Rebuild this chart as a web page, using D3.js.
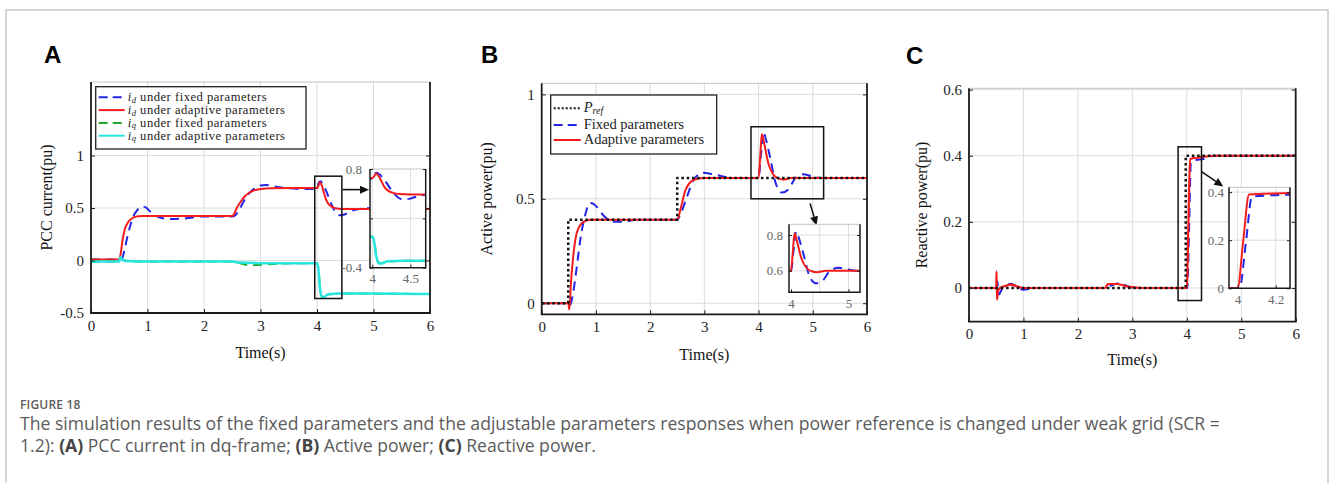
<!DOCTYPE html>
<html><head><meta charset="utf-8">
<script src="https://cdn.jsdelivr.net/npm/d3@7"></script>
<style>body{margin:0;background:#fff}svg{display:block}</style>
</head><body>
<svg id="c" width="1330" height="483"></svg>
<script>
// ---------------- DATA ----------------
const timeTicks = [0, 1, 2, 3, 4, 5, 6];
const A_yTicks = [-0.5, 0, 0.5, 1];
const A_yLabels = ["-0.5", "0", "0.5", "1"];
const B_yTicks = [0, 0.5, 1];
const B_yLabels = ["0", "0.5", "1"];
const C_yTicks = [0, 0.2, 0.4, 0.6];
const C_yLabels = ["0", "0.2", "0.4", "0.6"];

// Panel A: PCC current (pu)
const A_idFixed = [[0,0.01],[0.5,0.01],[0.55,0.02],[0.6,0.12],[0.65,0.24],[0.7,0.34],[0.75,0.42],[0.82,0.48],[0.9,0.515],[0.97,0.505],[1.05,0.465],[1.15,0.425],[1.25,0.405],[1.4,0.395],[1.6,0.398],[1.8,0.41],[2.0,0.42],[2.5,0.42],[2.55,0.43],[2.62,0.48],[2.7,0.56],[2.8,0.64],[2.9,0.69],[3.0,0.715],[3.1,0.72],[3.25,0.705],[3.5,0.688],[3.8,0.68],[4.0,0.68],[4.03,0.74],[4.06,0.755],[4.1,0.73],[4.18,0.64],[4.26,0.53],[4.33,0.46],[4.4,0.43],[4.5,0.44],[4.6,0.47],[4.8,0.495],[5.0,0.5],[5.5,0.49],[6,0.49]];
const A_idAdaptive = [[0,0.01],[0.5,0.01],[0.52,0.05],[0.56,0.2],[0.6,0.3],[0.65,0.36],[0.72,0.4],[0.8,0.418],[0.9,0.424],[1.0,0.425],[1.5,0.425],[2.0,0.425],[2.5,0.425],[2.53,0.44],[2.58,0.5],[2.65,0.56],[2.72,0.61],[2.8,0.645],[2.9,0.67],[3.0,0.68],[3.2,0.688],[3.6,0.69],[4.0,0.69],[4.03,0.72],[4.05,0.745],[4.08,0.72],[4.12,0.65],[4.16,0.58],[4.2,0.54],[4.27,0.51],[4.35,0.495],[4.5,0.49],[5.0,0.49],[6,0.49]];
const A_iqFixed = [[0,-0.01],[0.5,-0.01],[0.53,0.02],[0.6,0.0],[1.0,-0.01],[2.5,-0.01],[2.6,-0.02],[2.8,-0.045],[3.0,-0.04],[3.3,-0.03],[4.0,-0.025],[4.03,-0.1],[4.06,-0.3],[4.1,-0.345],[4.2,-0.325],[4.5,-0.315],[6,-0.32]];
const A_iqAdaptive = [[0,-0.01],[0.5,-0.01],[0.52,0.03],[0.55,0.01],[0.6,-0.005],[1.0,-0.01],[2.5,-0.01],[2.6,-0.02],[3.0,-0.025],[4.0,-0.025],[4.02,-0.06],[4.05,-0.25],[4.08,-0.345],[4.12,-0.348],[4.2,-0.322],[4.4,-0.315],[5.0,-0.315],[6,-0.32]];
const A_insetXTicks = [4, 4.5];
const A_insetXLabels = ["4", "4.5"];
const A_insetYTicks = [-0.4, 0.2, 0.8];
const A_insetYLabels = ["-0.4", "", "0.8"];

// Panel B: Active power (pu)
const B_pRef = [[0,0],[0.49,0],[0.49,0.4],[2.5,0.4],[2.5,0.6],[6,0.6]];
const B_pFixed = [[0,0],[0.5,0],[0.52,-0.01],[0.58,0.05],[0.65,0.18],[0.71,0.3],[0.8,0.42],[0.89,0.48],[0.96,0.475],[1.02,0.46],[1.14,0.42],[1.32,0.39],[1.5,0.39],[1.75,0.4],[2.5,0.4],[2.55,0.42],[2.68,0.51],[2.8,0.59],[2.98,0.625],[3.17,0.617],[3.54,0.6],[4.0,0.6],[4.04,0.7],[4.09,0.82],[4.14,0.78],[4.22,0.69],[4.31,0.58],[4.43,0.53],[4.55,0.545],[4.68,0.6],[4.83,0.617],[4.95,0.61],[5.14,0.6],[6,0.6]];
const B_pAdaptive = [[0,0],[0.49,0],[0.51,-0.03],[0.54,0.1],[0.58,0.22],[0.65,0.34],[0.77,0.39],[0.9,0.4],[2.5,0.4],[2.56,0.45],[2.65,0.54],[2.8,0.59],[2.98,0.6],[4.0,0.6],[4.03,0.7],[4.06,0.81],[4.1,0.77],[4.18,0.67],[4.26,0.62],[4.34,0.6],[4.46,0.592],[4.6,0.6],[6,0.6]];
const B_insetXTicks = [4, 5];
const B_insetXLabels = ["4", "5"];
const B_insetGridX = [4.5, 5];
const B_insetYTicks = [0.6, 0.8];
const B_insetYLabels = ["0.6", "0.8"];

// Panel C: Reactive power (pu)
const C_qRef = [[0,0],[3.98,0],[3.98,0.4],[6,0.4]];
const C_qFixed = [[0,0],[0.5,0],[0.52,0.02],[0.55,-0.02],[0.6,-0.005],[0.69,0.005],[0.75,0.013],[0.85,0.008],[1.0,-0.005],[1.2,0.0],[2.5,0.0],[2.62,0.008],[2.77,0.015],[2.9,0.006],[3.02,0.0],[4.0,0.0],[4.01,0.0],[4.045,0.2],[4.075,0.38],[4.15,0.386],[4.3,0.39],[4.5,0.4],[6,0.4]];
const C_qAdaptive = [[0,0],[0.5,0],[0.505,0.05],[0.515,-0.035],[0.53,-0.01],[0.57,0],[0.69,0.007],[0.75,0.01],[0.88,0.005],[1.0,0],[2.5,0],[2.55,0.012],[2.71,0.012],[2.9,0.005],[3.2,0],[4.0,0],[4.03,0.2],[4.06,0.39],[4.24,0.395],[4.5,0.4],[6,0.4]];
const C_insetXTicks = [4, 4.2];
const C_insetXLabels = ["4", "4.2"];
const C_insetYTicks = [0, 0.2, 0.4];
const C_insetYLabels = ["0", "0.2", "0.4"];

// --------------- STYLE -----------------
const SERIF = "'Liberation Serif','DejaVu Serif',serif";
const SANS = "'Liberation Sans',Arial,sans-serif";
const COL = {blue:"#2424e6", red:"#f41c1c", green:"#1fa82a", cyan:"#27e6e0", black:"#111"};

const svg = d3.select('#c');
svg.append('rect').attr('x',6).attr('y',10).attr('width',1322).attr('height',520)
  .attr('fill','none').attr('stroke','#c9c9c9').attr('stroke-width',1.5);

let clipN = 0;
function frame(cfg){
  const g = svg.append('g');
  const x = d3.scaleLinear().domain(cfg.xDomain).range([cfg.x0,cfg.x1]);
  const y = d3.scaleLinear().domain(cfg.yDomain).range([cfg.y1,cfg.y0]);
  if (cfg.bg) g.append('rect').attr('x',cfg.x0).attr('y',cfg.y0).attr('width',cfg.x1-cfg.x0).attr('height',cfg.y1-cfg.y0).attr('fill','#fff');
  const grid = g.append('g').attr('stroke','#dcdcdc').attr('stroke-width',1);
  (cfg.gridX||cfg.xTicks).forEach(t=>{ if(t>cfg.xDomain[0]+1e-9 && t<cfg.xDomain[1]-1e-9) grid.append('line').attr('x1',x(t)).attr('x2',x(t)).attr('y1',cfg.y0).attr('y2',cfg.y1);});
  (cfg.gridY||cfg.yTicks).forEach(v=>{ if(v>cfg.yDomain[0]+1e-9 && v<cfg.yDomain[1]-1e-9) grid.append('line').attr('y1',y(v)).attr('y2',y(v)).attr('x1',cfg.x0).attr('x2',cfg.x1);});
  const id = 'clip'+(clipN++);
  svg.append('clipPath').attr('id',id).append('rect').attr('x',cfg.x0).attr('y',cfg.y0).attr('width',cfg.x1-cfg.x0).attr('height',cfg.y1-cfg.y0);
  const plot = g.append('g').attr('clip-path',`url(#${id})`);
  return {g,x,y,plot,cfg};
}
function finishFrame(f){
  const {g,x,y,cfg} = f;
  g.append('line').attr('x1',cfg.x0).attr('x2',cfg.x1).attr('y1',cfg.y0).attr('y2',cfg.y0).attr('stroke','#c4c4c4').attr('stroke-width',1);
  const bx = g.append('g').attr('transform',`translate(0,${cfg.y1})`)
    .call(d3.axisBottom(x).tickValues(cfg.xTicks).tickFormat((d,i)=>cfg.xLabels[i]).tickSize(-cfg.tick).tickPadding(cfg.padX));
  const ly = g.append('g').attr('transform',`translate(${cfg.x0},0)`)
    .call(d3.axisLeft(y).tickValues(cfg.yTicks).tickFormat((d,i)=>cfg.yLabels[i]).tickSize(-cfg.tick).tickPadding(cfg.padY));
  const ry = g.append('g').attr('transform',`translate(${cfg.x1},0)`)
    .call(d3.axisRight(y).tickValues(cfg.yTicks).tickFormat('').tickSize(-cfg.tick));
  [bx,ly,ry].forEach(a=>{
    a.select('.domain').remove();
    a.selectAll('line').attr('stroke','#222').attr('stroke-width',1);
    a.selectAll('text').attr('font-family',SERIF).attr('font-size',cfg.fs).attr('fill',cfg.labelColor);
  });
  const lw = cfg.frameW;
  g.append('line').attr('x1',cfg.x0).attr('x2',cfg.x0).attr('y1',cfg.y0).attr('y2',cfg.y1).attr('stroke','#1a1a1a').attr('stroke-width',lw);
  g.append('line').attr('x1',cfg.x1).attr('x2',cfg.x1).attr('y1',cfg.y0).attr('y2',cfg.y1).attr('stroke','#1a1a1a').attr('stroke-width',lw);
  g.append('line').attr('x1',cfg.x0-lw/2).attr('x2',cfg.x1+lw/2).attr('y1',cfg.y1).attr('y2',cfg.y1).attr('stroke','#1a1a1a').attr('stroke-width',lw);
}
function series(f, data, color, width, dash, curve){
  const line = d3.line().x(d=>f.x(d[0])).y(d=>f.y(d[1])).curve(curve||d3.curveMonotoneX);
  f.plot.append('path').datum(data).attr('d',line).attr('fill','none')
    .attr('stroke',color).attr('stroke-width',width).attr('stroke-dasharray',dash||null)
    .attr('stroke-linejoin','round');
}
function zoomBox(f, t0,t1,v0,v1){
  f.g.append('rect').attr('x',f.x(t0)).attr('y',f.y(v1)).attr('width',f.x(t1)-f.x(t0)).attr('height',f.y(v0)-f.y(v1))
   .attr('fill','none').attr('stroke','#111').attr('stroke-width',1.5);
}
function arrow(f, a, b){
  const x1=f.x(a[0]), y1=f.y(a[1]), x2=f.x(b[0]), y2=f.y(b[1]);
  const ang=Math.atan2(y2-y1,x2-x1), L=9, W=4;
  const bx=x2-L*Math.cos(ang), by=y2-L*Math.sin(ang);
  f.g.append('line').attr('x1',x1).attr('y1',y1).attr('x2',bx).attr('y2',by).attr('stroke','#111').attr('stroke-width',1.6);
  f.g.append('path').attr('d',`M${x2},${y2}L${bx-W*Math.sin(ang)},${by+W*Math.cos(ang)}L${bx+W*Math.sin(ang)},${by-W*Math.cos(ang)}Z`).attr('fill','#111');
}
function axisTitles(f, xt, yt, xty, ytx){
  const c=f.cfg;
  f.g.append('text').attr('x',(c.x0+c.x1)/2).attr('y',xty).attr('text-anchor','middle')
    .attr('font-family',SERIF).attr('font-size',16).attr('fill','#111').text(xt);
  f.g.append('text').attr('transform',`translate(${ytx},${(c.y0+c.y1)/2}) rotate(-90)`).attr('text-anchor','middle')
    .attr('font-family',SERIF).attr('font-size',16).attr('fill','#111').text(yt);
}
function letter(txt,x,y){
  svg.append('text').attr('x',x).attr('y',y).attr('font-family',SANS).attr('font-weight','bold').attr('font-size',24).attr('fill','#000').text(txt);
}
function legend(x,y,w,h,entries,fs,sampleW,ls){
  const g=svg.append('g');
  g.append('rect').attr('x',x).attr('y',y).attr('width',w).attr('height',h).attr('fill','#fff').attr('stroke','#222').attr('stroke-width',1.3);
  entries.forEach(e=>{
    g.append('line').attr('x1',x+3).attr('x2',x+3+sampleW).attr('y1',e.y).attr('y2',e.y)
      .attr('stroke',e.color).attr('stroke-width',e.w).attr('stroke-dasharray',e.dash||null);
    const t=g.append('text').attr('x',x+6+sampleW).attr('y',e.y+4).attr('font-family',SERIF).attr('font-size',fs)
      .attr('letter-spacing',ls||0).attr('fill','#222');
    e.parts.forEach(p=>{
      const s=t.append('tspan').text(p.t);
      if(p.i) s.attr('font-style','italic');
      if(p.sub) s.attr('font-size',fs*0.68).attr('dy',1.5);
      if(p.up) s.attr('dy',-1.5);
    });
  });
}

const mainCfg = {tick:4, padX:7, padY:7, fs:15, labelColor:'#222', frameW:1.8};
const insetCfg = {tick:3, padX:6, padY:4, fs:13, labelColor:'#666', frameW:1.5, bg:true};

// ---------------- PANEL A ----------------
letter('A',44,63);
const A = frame(Object.assign({}, mainCfg, {x0:91,x1:430,y0:82,y1:313,xDomain:[0,6],yDomain:[-0.5,1.7],
  xTicks:timeTicks, xLabels:timeTicks.map(String), yTicks:A_yTicks, yLabels:A_yLabels}));
series(A, A_idFixed, COL.blue, 2, '9,6');
series(A, A_idAdaptive, COL.red, 2);
series(A, A_iqFixed, COL.green, 2, '9,6');
series(A, A_iqAdaptive, COL.cyan, 2.5);
finishFrame(A);
axisTitles(A,'Time(s)','PCC current(pu)',358,52);
zoomBox(A,3.96,4.44,-0.362,0.803);
arrow(A,[4.45,0.675],[4.92,0.675]);
const Ai = frame(Object.assign({}, insetCfg, {x0:370,x1:425.7,y0:169,y1:267.7,xDomain:[3.97,4.7],yDomain:[-0.4,0.8],
  xTicks:A_insetXTicks, xLabels:A_insetXLabels, yTicks:A_insetYTicks, yLabels:A_insetYLabels, padY:8}));
series(Ai, A_idFixed, COL.blue, 2, '9,6');
series(Ai, A_idAdaptive, COL.red, 2);
series(Ai, A_iqFixed, COL.green, 2, '9,6');
series(Ai, A_iqAdaptive, COL.cyan, 2.5);
finishFrame(Ai);
legend(95.7,86.7,210.3,62.3,[
  {y:97.3,color:COL.blue,w:2,dash:'9,5',parts:[{t:'i',i:1},{t:'d',sub:1,i:1},{t:' under fixed parameters',up:1}]},
  {y:110.1,color:COL.red,w:2,parts:[{t:'i',i:1},{t:'d',sub:1,i:1},{t:' under adaptive parameters',up:1}]},
  {y:122.9,color:COL.green,w:2,dash:'9,5',parts:[{t:'i',i:1},{t:'q',sub:1,i:1},{t:' under fixed parameters',up:1}]},
  {y:135.7,color:COL.cyan,w:2,parts:[{t:'i',i:1},{t:'q',sub:1,i:1},{t:' under adaptive parameters',up:1}]}
],12.6,26,0.5);

// ---------------- PANEL B ----------------
letter('B',481,63);
const B = frame(Object.assign({}, mainCfg, {x0:541.7,x1:867,y0:83.3,y1:314.3,xDomain:[0,6],yDomain:[-0.053,1.053],
  xTicks:timeTicks, xLabels:timeTicks.map(String), yTicks:B_yTicks, yLabels:B_yLabels}));
series(B, B_pFixed, COL.blue, 2, '9,6');
series(B, B_pAdaptive, COL.red, 2);
series(B, B_pRef, COL.black, 2.5, '2.5,2.8', d3.curveLinear);
finishFrame(B);
axisTitles(B,'Time(s)','Active power(pu)',360,492);
zoomBox(B,3.86,5.2,0.5,0.845);
arrow(B,[4.95,0.478],[5.07,0.372]);
const Bi = frame(Object.assign({}, insetCfg, {x0:789,x1:860,y0:224.3,y1:292.3,xDomain:[3.965,5.2],yDomain:[0.48,0.86],
  xTicks:B_insetXTicks, xLabels:B_insetXLabels, gridX:B_insetGridX, yTicks:B_insetYTicks, yLabels:B_insetYLabels, padY:6}));
series(Bi, B_pFixed, COL.blue, 2, '9,6');
series(Bi, B_pAdaptive, COL.red, 2);
finishFrame(Bi);
legend(550.7,95,166,59,[
  {y:108.3,color:COL.black,w:2,dash:'2,2',parts:[{t:'P',i:1},{t:'ref',sub:1,i:1}]},
  {y:125,color:COL.blue,w:2,dash:'9,5',parts:[{t:'Fixed parameters'}]},
  {y:140,color:COL.red,w:2,parts:[{t:'Adaptive parameters'}]}
],14.5,27);

// ---------------- PANEL C ----------------
letter('C',906,64);
const C = frame(Object.assign({}, mainCfg, {x0:969,x1:1295.7,y0:88.3,y1:321.7,xDomain:[0,6],yDomain:[-0.102,0.604],
  xTicks:timeTicks, xLabels:timeTicks.map(String), yTicks:C_yTicks, yLabels:C_yLabels}));
series(C, C_qFixed, COL.blue, 2, '9,6');
series(C, C_qAdaptive, COL.red, 2.2);
series(C, C_qRef, COL.black, 2.5, '2.5,2.8', d3.curveLinear);
finishFrame(C);
axisTitles(C,'Time(s)','Reactive power(pu)',365,927);
zoomBox(C,3.84,4.27,-0.038,0.427);
arrow(C,[4.27,0.352],[4.67,0.307]);
const Ci = frame(Object.assign({}, insetCfg, {x0:1229,x1:1290,y0:187.3,y1:288.3,xDomain:[3.955,4.275],yDomain:[0,0.42],
  xTicks:C_insetXTicks, xLabels:C_insetXLabels, yTicks:C_insetYTicks, yLabels:C_insetYLabels, padY:5}));
series(Ci, C_qFixed, COL.blue, 2, '9,6');
series(Ci, C_qAdaptive, COL.red, 2);
finishFrame(Ci);

// ---------------- CAPTION ----------------
const CAP = "'Open Sans','Noto Sans',sans-serif";
svg.append('text').attr('x',20).attr('y',409).attr('font-family',CAP).attr('font-size',12).attr('font-weight',600)
  .attr('fill','#5b5b5b').attr('letter-spacing',0.2).text('FIGURE 18');
svg.append('text').attr('x',20).attr('y',430).attr('font-family',CAP).attr('font-size',17.6).attr('fill','#5b5b5b')
  .text('The simulation results of the fixed parameters and the adjustable parameters responses when power reference is changed under weak grid (SCR =');
const l2 = svg.append('text').attr('x',20).attr('y',452).attr('font-family',CAP).attr('font-size',17.6).attr('fill','#5b5b5b');
[['1.2): ',0],['(A)',1],[' PCC current in dq-frame; ',0],['(B)',1],[' Active power; ',0],['(C)',1],[' Reactive power.',0]]
  .forEach(([t,b])=>{ const s=l2.append('tspan').text(t); if(b) s.attr('font-weight',700).attr('fill','#444'); });
</script>
</body></html>
